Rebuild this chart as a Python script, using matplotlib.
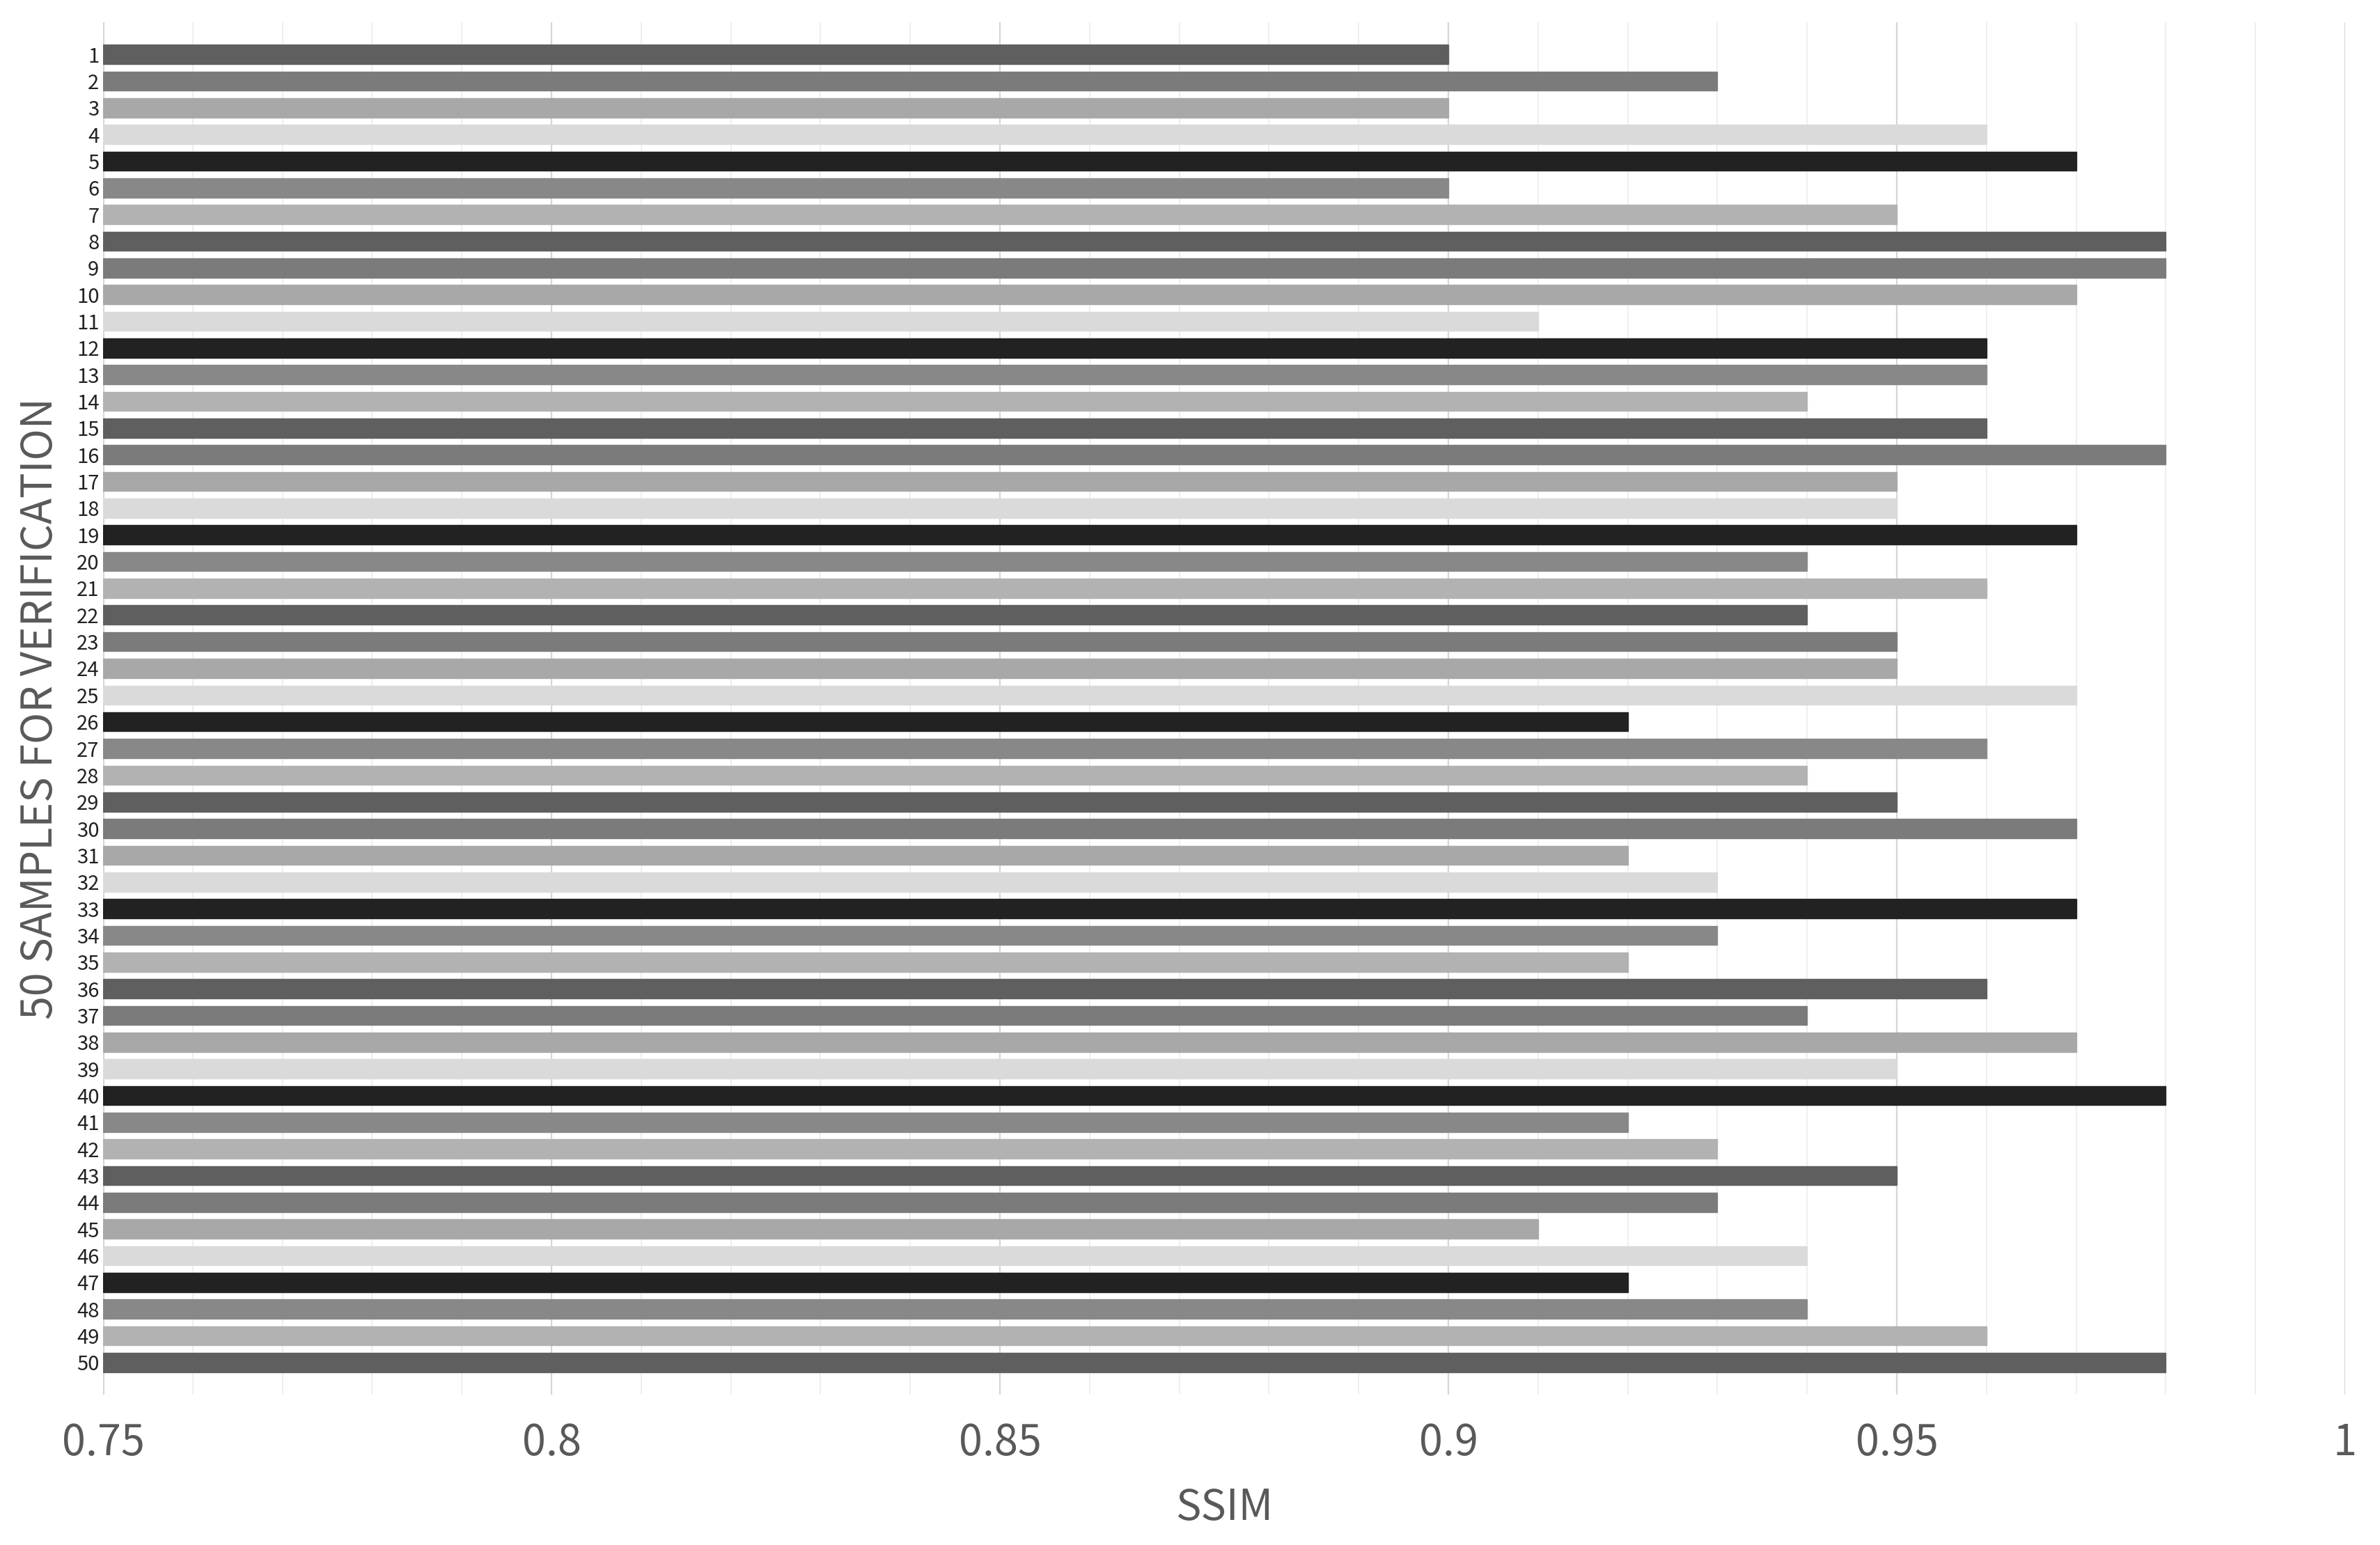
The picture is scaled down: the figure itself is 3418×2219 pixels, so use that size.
import numpy as np
import matplotlib.pyplot as plt
from matplotlib.ticker import MultipleLocator

samples = [str(i) for i in range(1, 51)]
ssim = [0.90, 0.93, 0.90, 0.96, 0.97, 0.90, 0.95, 0.98, 0.98, 0.97,
        0.91, 0.96, 0.96, 0.94, 0.96, 0.98, 0.95, 0.95, 0.97, 0.94,
        0.96, 0.94, 0.95, 0.95, 0.97, 0.92, 0.96, 0.94, 0.95, 0.97,
        0.92, 0.93, 0.97, 0.93, 0.92, 0.96, 0.94, 0.97, 0.95, 0.98,
        0.92, 0.93, 0.95, 0.93, 0.91, 0.94, 0.92, 0.94, 0.96, 0.98]
shades = ['#5f5f5f', '#7b7b7b', '#a8a8a8', '#dadada', '#222222', '#888888', '#b2b2b2']
x_ticks = [0.75, 0.8, 0.85, 0.9, 0.95, 1]
x_ticklabels = ['0.75', '0.8', '0.85', '0.9', '0.95', '1']

plt.rcParams['font.family'] = ['Noto Sans CJK SC', 'DejaVu Sans']

fig = plt.figure(figsize=(17.09, 11.095), dpi=200)
ax = fig.add_axes([148/3418, 1 - 2003/2219, (3368-148)/3418, (2003-32)/2219])

y = np.arange(1, 51)
colors = [shades[i % 7] for i in range(50)]
bars = ax.barh(y, np.array(ssim) - 0.75, left=0.75, height=0.72, color=colors,
               linewidth=0.5, zorder=3)
# thin lighter rim round each bar, as in the original
for b, c in zip(bars, colors):
    b.set_edgecolor(c)
    b.set_alpha(1)
ax.set_xlim(0.75, 1.0)
ax.set_ylim(51.2, -0.2)
ax.set_xticks(x_ticks)
ax.set_xticklabels(x_ticklabels, fontweight='light')
ax.xaxis.set_minor_locator(MultipleLocator(0.01))
ax.grid(axis='x', which='major', color='#d6d6d6', linewidth=0.8, zorder=0)
ax.grid(axis='x', which='minor', color='#ececec', linewidth=0.6, zorder=0)
ax.axvline(1.0, color='#cfcfcf', linewidth=1.0, zorder=1)
ax.axvline(0.75, color='#cfcfcf', linewidth=1.0, zorder=1)

ax.set_yticks(y)
ax.set_yticklabels(samples, fontsize=10.5, color='#222222')
ax.tick_params(axis='y', length=0, pad=2)
ax.tick_params(axis='x', which='both', length=0, pad=14, labelsize=22, labelcolor='#595959')
for s in ax.spines.values():
    s.set_visible(False)

ax.set_xlabel('SSIM', fontsize=22, color='#595959', fontweight='light', va='center')
ax.xaxis.set_label_coords(0.5, (2003 - 2166) / 1971)
ax.set_ylabel('50 SAMPLES FOR VERIFICATION', fontsize=22, color='#595959', fontweight='light', va='center')
ax.yaxis.set_label_coords((58 - 148) / 3220, 0.5)

fig.savefig('out.png', dpi=200)
